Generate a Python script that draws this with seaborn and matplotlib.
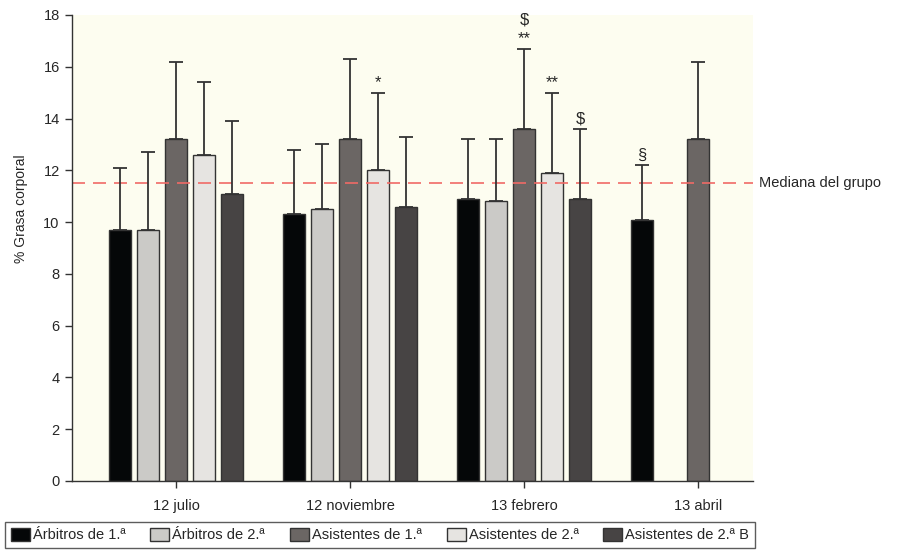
import numpy as np
import pandas as pd
import matplotlib
matplotlib.use('Agg')
import matplotlib.pyplot as plt
import matplotlib.transforms as mtransforms
import seaborn as sns

# datos (% grasa corporal, media y desviacion)
fechas = ['12 julio', '12 noviembre', '13 febrero', '13 abril']
grupos = ['Árbitros de 1.ª', 'Árbitros de 2.ª', 'Asistentes de 1.ª',
          'Asistentes de 2.ª', 'Asistentes de 2.ª B']
colores = ['#050708', '#cbcac7', '#6b6664', '#e6e4e1', '#474444']

arbitros_1 = [9.7, 10.3, 10.9, 10.1]
arbitros_2 = [9.7, 10.5, 10.8, np.nan]
asistentes_1 = [13.2, 13.2, 13.6, 13.2]
asistentes_2 = [12.6, 12.0, 11.9, np.nan]
asistentes_2b = [11.1, 10.6, 10.9, np.nan]

sd_arbitros_1 = [2.4, 2.5, 2.3, 2.1]
sd_arbitros_2 = [3.0, 2.5, 2.4, np.nan]
sd_asistentes_1 = [3.0, 3.1, 3.1, 3.0]
sd_asistentes_2 = [2.8, 3.0, 3.1, np.nan]
sd_asistentes_2b = [2.8, 2.7, 2.7, np.nan]

mediana = 11.5

# (fecha, grupo, simbolo)
anotaciones = [('12 noviembre', 'Asistentes de 2.ª', '*'),
               ('13 febrero', 'Asistentes de 1.ª', '$\n**'),
               ('13 febrero', 'Asistentes de 2.ª', '**'),
               ('13 febrero', 'Asistentes de 2.ª B', '$'),
               ('13 abril', 'Árbitros de 1.ª', '§')]

medias = [arbitros_1, arbitros_2, asistentes_1, asistentes_2, asistentes_2b]
sds = [sd_arbitros_1, sd_arbitros_2, sd_asistentes_1, sd_asistentes_2, sd_asistentes_2b]

filas = []
for g, m, s in zip(grupos, medias, sds):
    for f, v, e in zip(fechas, m, s):
        filas.append({'fecha': f, 'grupo': g, 'grasa': v, 'sd': e})
df = pd.DataFrame(filas).dropna()

sns.set_style('ticks')
plt.rcParams['font.family'] = ['Liberation Sans', 'DejaVu Sans']

fig = plt.figure(figsize=(9.09, 5.56), dpi=100)
ax = fig.add_axes([71.5 / 909, 1 - 481 / 556, (753 - 71.5) / 909, (481 - 15) / 556])
ax.set_facecolor('#fdfdf0')

sns.barplot(data=df, x='fecha', y='grasa', hue='grupo', order=fechas,
            hue_order=grupos, palette=colores, saturation=1, width=0.805,
            gap=0.22, edgecolor='#333333', linewidth=1, errorbar=None, ax=ax)

# barras de error (solo hacia arriba)
sd_dict = {(r.fecha, r.grupo): r.sd for r in df.itertuples()}
cima = {}
for grupo, cont in zip(grupos, ax.containers):
    for barra in cont:
        xc = barra.get_x() + barra.get_width() / 2
        h = barra.get_height()
        fecha = fechas[int(round(xc))]
        e = sd_dict[(fecha, grupo)]
        ax.errorbar(xc, h, yerr=[[0], [e]], fmt='none', ecolor='#333333',
                    elinewidth=1.3, capsize=4.7, capthick=1.3, zorder=3)
        cima[(fecha, grupo)] = (xc, h + e)

for fecha, grupo, txt in anotaciones:
    xc, yt = cima[(fecha, grupo)]
    ax.annotate(txt, (xc, yt), xytext=(0, 1.5), textcoords='offset points',
                ha='center', va='bottom', fontsize=12, linespacing=1.3)

ax.axhline(mediana, color='#f06a66', ls=(0, (7.8, 4.8)), lw=1.2, zorder=1)
trans = mtransforms.blended_transform_factory(ax.transAxes, ax.transData)
ax.text(1.009, mediana, 'Mediana del grupo', transform=trans, ha='left',
        va='center', fontsize=10.5, clip_on=False)

ax.set_xlim(-0.603, 3.316)
ax.set_ylim(0, 18)
ax.set_yticks(np.arange(0, 19, 2))
ax.set_xlabel('')
ax.set_ylabel('% Grasa corporal', fontsize=10)
ax.yaxis.set_label_coords(-0.064, 0.585)
ax.tick_params(axis='both', labelsize=10.5, length=5, width=1, color='#333333')
ax.tick_params(axis='x', pad=8)
for lado in ['top', 'right']:
    ax.spines[lado].set_visible(False)
for lado in ['left', 'bottom']:
    ax.spines[lado].set_color('#333333')
    ax.spines[lado].set_linewidth(1)

handles, labels = ax.get_legend_handles_labels()
ax.get_legend().remove()
for hd in handles:
    hd.set_edgecolor('#333333')
    hd.set_linewidth(1)
leg = fig.legend(handles, labels, ncol=5, loc='center',
                 bbox_to_anchor=(5 / 909, 5 / 556, 750 / 909, 32 / 556),
                 mode='expand', borderaxespad=0, fontsize=10.5, frameon=True,
                 fancybox=False, handlelength=1.3, handleheight=1.0,
                 handletextpad=0.2, columnspacing=0.8)
leg.get_frame().set_edgecolor('#333333')
leg.get_frame().set_linewidth(1)

fig.savefig('out.png', dpi=100)
